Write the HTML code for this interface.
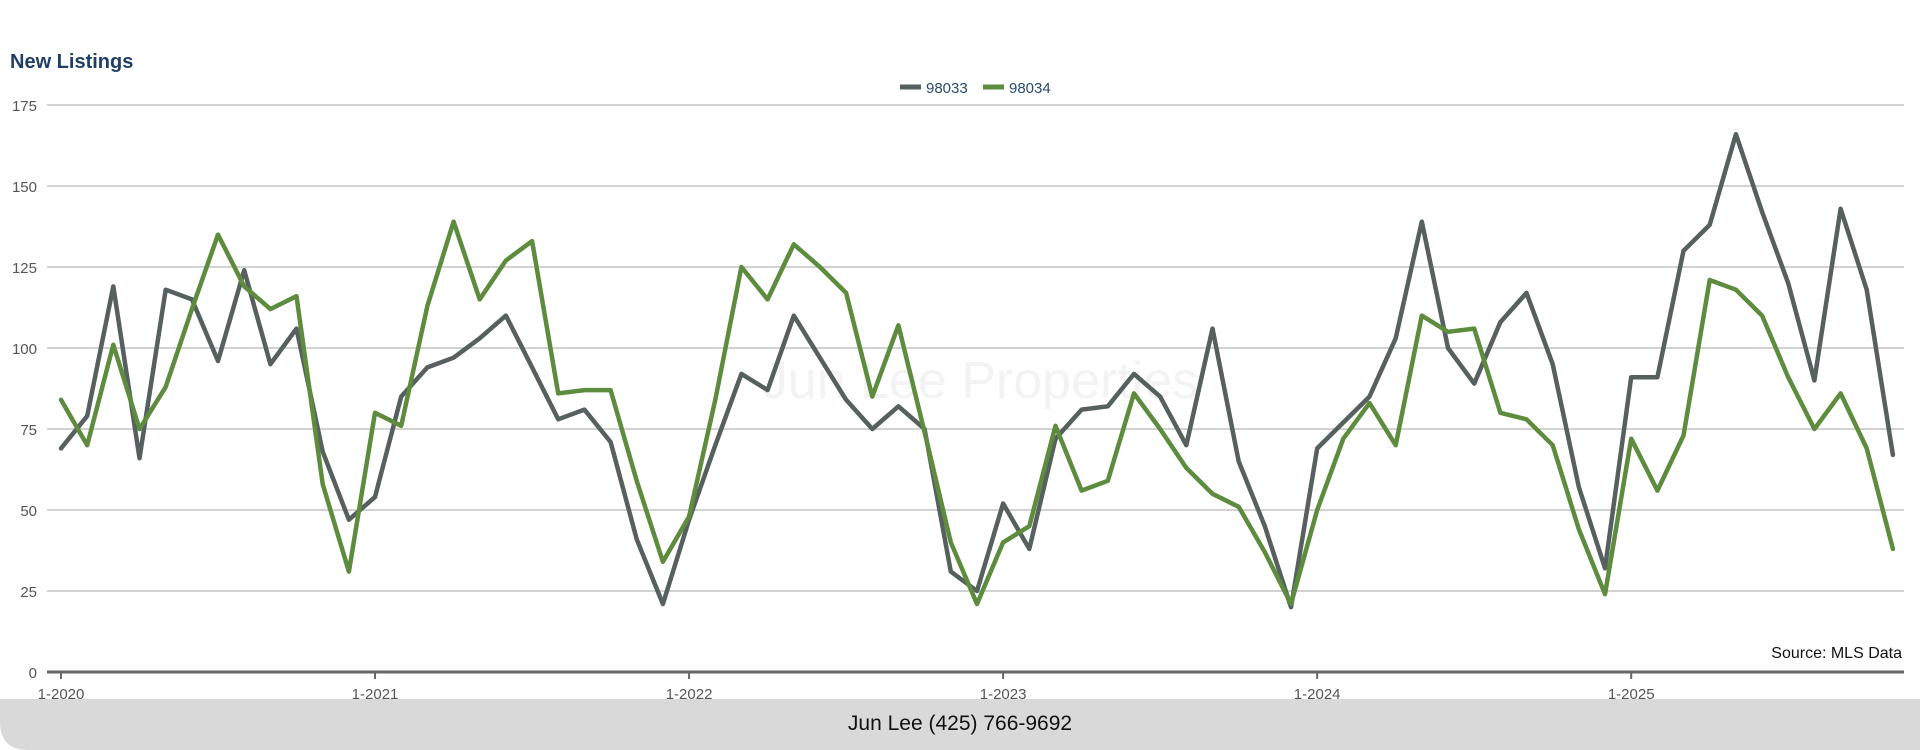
<!DOCTYPE html>
<html><head><meta charset="utf-8">
<style>
html,body{margin:0;padding:0;background:#fff;}
body{width:1920px;height:750px;position:relative;overflow:hidden;font-family:"Liberation Sans",sans-serif;}
svg{position:absolute;left:0;top:0;}
</style></head>
<body>
<svg id="chart" width="1920" height="750">
  <text x="980" y="398" font-size="52" fill="#f3f3f3" text-anchor="middle" font-family="Liberation Sans, sans-serif">Jun Lee Properties</text>
  <text x="10" y="68" font-size="20" font-weight="bold" fill="#1f3f66">New Listings</text>
  <g>
    <g>
      <line x1="900" y1="87" x2="921" y2="87" stroke="#56605f" stroke-width="5"/>
      <text x="926" y="93" font-size="15" fill="#2a4a6e">98033</text>
    </g>
    <g>
      <line x1="983" y1="87" x2="1004" y2="87" stroke="#5e8c3e" stroke-width="5"/>
      <text x="1009" y="93" font-size="15" fill="#2a4a6e">98034</text>
    </g>
  </g>
  <g id="grid"></g>
  <g id="series"></g>
  <text x="1902" y="658" font-size="16" fill="#111" text-anchor="end">Source: MLS Data</text>
  <path d="M0 699 H1920 V750 H28 Q0 750 0 722 Z" fill="#d9d9d9"/>
  <text x="960" y="730" font-size="21" fill="#111" text-anchor="middle">Jun Lee (425) 766-9692</text>
</svg>
<script>
const yTicks = [0, 25, 50, 75, 100, 125, 150, 175];
const xTickLabels = ["1-2020", "1-2021", "1-2022", "1-2023", "1-2024", "1-2025"];
const series98033 = [69,79,119,66,118,115,96,124,95,106,68,47,
  54,85,94,97,103,110,94,78,81,71,41,21,
  47,70,92,87,110,97,84,75,82,75,31,25,
  52,38,72,81,82,92,85,70,106,65,45,20,
  69,77,85,103,139,100,89,108,117,95,57,32,
  91,91,130,138,166,142,120,90,143,118,67];
const series98034 = [84,70,101,75,88,112,135,119,112,116,58,31,
  80,76,113,139,115,127,133,86,87,87,59,34,
  48,84,125,115,132,125,117,85,107,74,40,21,
  40,45,76,56,59,86,75,63,55,51,37,21,
  50,72,83,70,110,105,106,80,78,70,44,24,
  72,56,73,121,118,110,91,75,86,69,38];

const NS = "http://www.w3.org/2000/svg";
const x0 = 61, monthW = 26.17, plotL = 47, plotR = 1904;
const yTop = 105, yBot = 672, yMax = 175;
function xScale(i){ return x0 + i*monthW; }
function yScale(v){ return yBot - (v/yMax)*(yBot-yTop); }

const grid = document.getElementById('grid');
yTicks.forEach(t=>{
  const y = yScale(t);
  if(t>0){
    const l = document.createElementNS(NS,'line');
    l.setAttribute('x1',plotL); l.setAttribute('x2',plotR);
    l.setAttribute('y1',y); l.setAttribute('y2',y);
    l.setAttribute('stroke','#c4c4c4'); l.setAttribute('stroke-width','1.5');
    
    
    grid.appendChild(l);
  }
  const tx = document.createElementNS(NS,'text');
  tx.setAttribute('x',37); tx.setAttribute('y',y+6);
  tx.setAttribute('text-anchor','end'); tx.setAttribute('font-size','15'); tx.setAttribute('fill','#555');
  tx.textContent = t;
  
  
  grid.appendChild(tx);
});
const axis = document.createElementNS(NS,'line');
axis.setAttribute('x1',plotL); axis.setAttribute('x2',plotR);
axis.setAttribute('y1',yBot); axis.setAttribute('y2',yBot);
axis.setAttribute('stroke','#666'); axis.setAttribute('stroke-width','3');


grid.appendChild(axis);
xTickLabels.forEach((lab,k)=>{
  const x = xScale(k*12);
  const tk = document.createElementNS(NS,'line');
  tk.setAttribute('x1',x); tk.setAttribute('x2',x);
  tk.setAttribute('y1',yBot); tk.setAttribute('y2',yBot+7);
  tk.setAttribute('stroke','#666'); tk.setAttribute('stroke-width','2');
  
  
  grid.appendChild(tk);
  const tx = document.createElementNS(NS,'text');
  tx.setAttribute('x',x); tx.setAttribute('y',699);
  tx.setAttribute('text-anchor','middle'); tx.setAttribute('font-size','15'); tx.setAttribute('fill','#555');
  tx.textContent = lab;
  
  
  grid.appendChild(tx);
});
const sg = document.getElementById('series');
function drawLine(vals, color, name){
  const p = document.createElementNS(NS,'polyline');
  p.setAttribute('points', vals.map((v,i)=>xScale(i).toFixed(1)+','+yScale(v).toFixed(1)).join(' '));
  p.setAttribute('fill','none'); p.setAttribute('stroke',color);
  p.setAttribute('stroke-width','4.5'); p.setAttribute('stroke-linejoin','round'); p.setAttribute('stroke-linecap','round');
  
  
  sg.appendChild(p);
}
drawLine(series98033, '#56605f', 'series-98033-line');
drawLine(series98034, '#5e8c3e', 'series-98034-line');
</script>
</body></html>
